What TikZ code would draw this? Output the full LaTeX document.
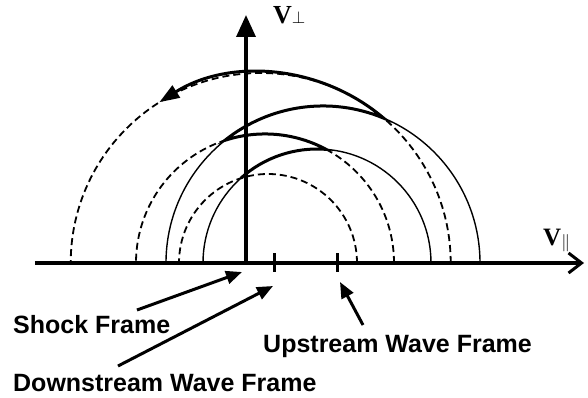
\documentclass[tikz,border=0pt]{standalone}
\usepackage{fontspec}
\setmainfont{Liberation Serif}
\setsansfont{Liberation Sans}
\usetikzlibrary{arrows.meta}

\begin{document}
\begin{tikzpicture}[x=1pt, y=1pt,
        axis line/.style={line width=3.5pt},
        thin orbit/.style={line width=1.4pt},
        dash orbit/.style={line width=1.8pt, dash pattern=on 7pt off 4pt},
        path orbit/.style={line width=3pt, -{Triangle[length=20pt, width=14pt]}},
        frame arrow/.style={line width=3pt, -{Triangle[length=16pt, width=13pt]}},
        frame label/.style={anchor=base west, inner sep=0pt, font=\sffamily\bfseries\fontsize{25}{30}\selectfont}]
    \useasboundingbox (-246,-134) rectangle (342,263);

    \coordinate (O) at (0,0);
    \coordinate (xl) at (-211,0);
    \coordinate (xr) at (338,0);
    \coordinate (yt) at (0,248);
    \coordinate (dw) at (28,0);
    \coordinate (uw) at (91,0);

    \draw[axis line, -{Straight Barb[length=13pt, width=20pt, line width=3pt]}] (xl) -- (xr);
    \draw[axis line, -{Triangle[length=22pt, width=19pt]}] (O) -- (yt);
    \draw[line width=3pt] ([yshift=10pt]dw) -- ([yshift=-9pt]dw);
    \draw[line width=3pt] ([yshift=10pt]uw) -- ([yshift=-9pt]uw);

    \foreach \c/\r in {22/89, 19/129, 14.7/190}
        \draw[dash orbit] ([shift={(\c,0)}]0:\r) arc[start angle=0, end angle=180, radius=\r];
    \foreach \c/\r in {71/114, 77/157}
        \draw[thin orbit] ([shift={(\c,0)}]0:\r) arc[start angle=0, end angle=180, radius=\r];

    \draw[path orbit] ([shift={(71,0)}]132:114)
        arc[start angle=132, end angle=85.4, radius=114]
        arc[start angle=61.7, end angle=108.1, radius=129]
        arc[start angle=128.65, end angle=67.24, radius=157]
        arc[start angle=49.64, end angle=122.2, radius=190];

    \node[anchor=base west, inner sep=0pt] (vperp) at (27,239)
        {\fontsize{26}{30}\selectfont\bfseries V{\fontsize{19}{22}\selectfont$\perp$}};
    \node[anchor=base west, inner sep=0pt] (vpar) at (297,18)
        {\fontsize{25}{28}\selectfont\bfseries V\raisebox{-2pt}{\fontsize{17}{20}\selectfont$\parallel$}};

    \node[frame label] (shock) at (-233,-70) {Shock Frame};
    \node[frame label] (up) at (17,-89) {Upstream Wave Frame};
    \node[frame label] (down) at (-233,-128) {Downstream Wave Frame};

    \coordinate (shock tail) at (-109,-47);
    \coordinate (shock tip) at (-4,-9);
    \coordinate (down tail) at (-128,-103);
    \coordinate (down tip) at (27,-23);
    \coordinate (up tail) at (117,-62);
    \coordinate (up tip) at (94,-19);

    \draw[frame arrow] (shock tail) -- (shock tip);
    \draw[frame arrow] (down tail) -- (down tip);
    \draw[frame arrow] (up tail) -- (up tip);
\end{tikzpicture}
\end{document}
